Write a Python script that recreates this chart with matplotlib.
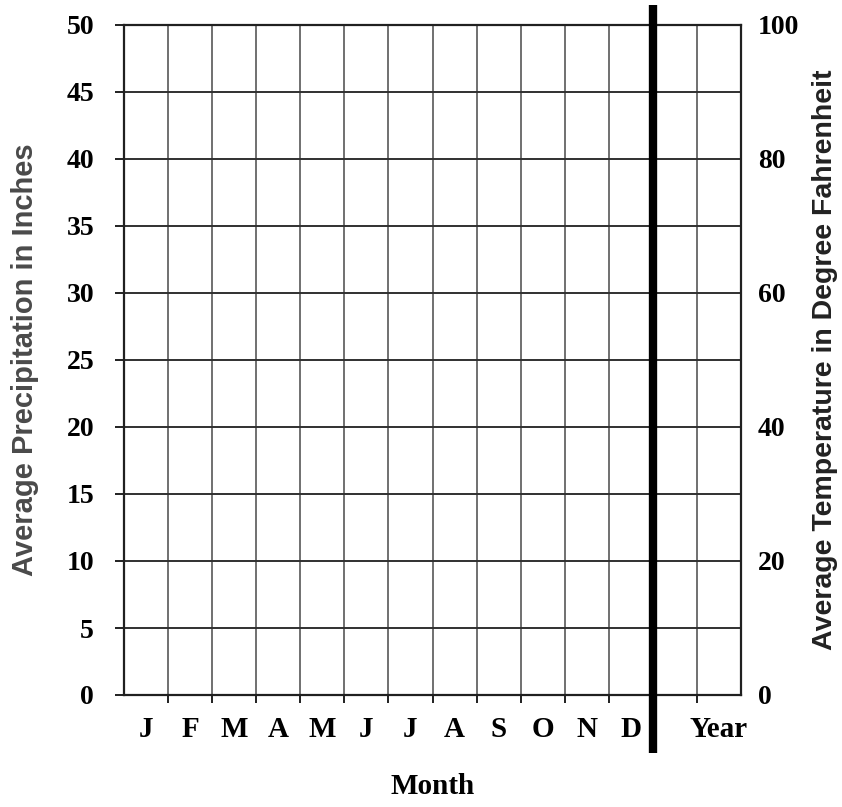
import matplotlib
matplotlib.use("Agg")
import matplotlib.pyplot as plt
import numpy as np

# blank climate graph template
months = ["J", "F", "M", "A", "M", "J", "J", "A", "S", "O", "N", "D"]
year_label = "Year"
precip_ticks = [0, 5, 10, 15, 20, 25, 30, 35, 40, 45, 50]
temp_ticks = [0, 20, 40, 60, 80, 100]

serif = ["Liberation Serif", "DejaVu Serif"]
sans = ["Liberation Sans", "DejaVu Sans"]

fig = plt.figure(figsize=(8.42, 8.07), dpi=100)
ax = fig.add_axes([124 / 842, 1 - 695 / 807, 617 / 842, 670 / 807])

ncols = len(months) + 2
ax.set_xlim(0, ncols)
ax.set_ylim(precip_ticks[0], precip_ticks[-1])

# grid
for x in range(1, ncols):
    ax.axvline(x, color="#707070", lw=1.4, zorder=1)
for y in precip_ticks[1:-1]:
    ax.axhline(y, color="#303030", lw=1.4, zorder=1)

for s in ax.spines.values():
    s.set_linewidth(1.6)
    s.set_color("#202020")

# left axis ticks
ax.set_yticks(precip_ticks)
ax.set_yticklabels([str(v) for v in precip_ticks], family=serif,
                   fontweight="bold", fontsize=20)
ax.tick_params(axis="y", length=6.5, width=1.4, pad=15, color="#202020")
for t in ax.yaxis.get_major_ticks():
    if t.get_loc() in (precip_ticks[0], precip_ticks[-1]):
        t.tick1line.set_visible(False)

# bottom: tick marks on column edges, labels in the middle
ax.set_xticks(np.arange(1, ncols), minor=True)
ax.tick_params(axis="x", which="minor", length=6, width=1.4, color="#202020")
centers = list(np.arange(len(months)) + 0.5) + [len(months) + 1.5]
ax.set_xticks(centers)
ax.set_xticklabels(months + [year_label], family=serif, fontweight="bold",
                   fontsize=21)
ax.tick_params(axis="x", which="major", length=0, pad=15)

ax.set_xlabel("Month", family=serif, fontweight="bold", fontsize=21,
              labelpad=22)
ax.set_ylabel("Average Precipitation in Inches", family=sans,
              fontweight="bold", fontsize=21, color="#4a4a4a", labelpad=20)

# right axis
ax2 = ax.twinx()
ax2.set_ylim(temp_ticks[0], temp_ticks[-1])
ax2.set_yticks(temp_ticks)
ax2.set_yticklabels([str(v) for v in temp_ticks], family=serif,
                    fontweight="bold", fontsize=20)
ax2.tick_params(axis="y", length=0, pad=12)
ax2.set_ylabel("Average Temperature in Degree Fahrenheit", family=sans,
               fontweight="bold", fontsize=20.5, color="#222222", labelpad=9)
for s in ax2.spines.values():
    s.set_visible(False)

# thick divider between months and year
ax.plot([len(months), len(months)], [-0.087, 1.03], color="black", lw=6,
        transform=ax.get_xaxis_transform(), clip_on=False, zorder=5,
        solid_capstyle="butt")

fig.savefig("out.png", dpi=100)
